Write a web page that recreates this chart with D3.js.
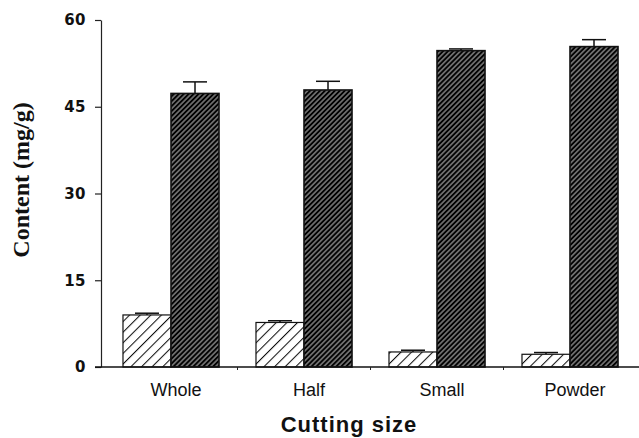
<!DOCTYPE html>
<html>
<head>
<meta charset="utf-8">
<script src="https://cdn.jsdelivr.net/npm/d3@7"></script>
<style>
  html, body { margin: 0; padding: 0; background: #fff; }
  svg { display: block; }
</style>
</head>
<body>
<svg id="chart" width="639" height="438"></svg>
<script>
// Extraction content by cutting size (two treatments, mean ± error)
const categories = ["Whole", "Half", "Small", "Powder"];
const seriesKeys = ["low", "high"];
const lowValues  = [9.0, 7.7, 2.6, 2.2];
const lowErrors  = [0.3, 0.3, 0.3, 0.3];
const highValues = [47.3, 47.9, 54.7, 55.4];
const highErrors = [2.0, 1.5, 0.3, 1.2];
const yTicks = [0, 15, 30, 45, 60];

const svg = d3.select("#chart");

const x = d3.scaleBand().domain(categories).range([104.5, 636.5]).paddingInner(0).paddingOuter(0);
const xSub = d3.scaleBand().domain(seriesKeys).range([0, x.bandwidth()]).paddingInner(0).paddingOuter(0.385);
const y = d3.scaleLinear().domain([0, 60]).range([367, 20]);

// hatch patterns
const defs = svg.append("defs");
const light = defs.append("pattern")
  .attr("id", "hatchLight").attr("patternUnits", "userSpaceOnUse")
  .attr("width", 7.5).attr("height", 7.5)
  .attr("patternTransform", "rotate(45)");
light.append("rect").attr("width", 7.5).attr("height", 7.5).attr("fill", "#fff");
light.append("line").attr("x1", 0.5).attr("y1", 0).attr("x2", 0.5).attr("y2", 7.5)
  .attr("stroke", "#111").attr("stroke-width", 1.1);

const dark = defs.append("pattern")
  .attr("id", "hatchDark").attr("patternUnits", "userSpaceOnUse")
  .attr("width", 3.5).attr("height", 3.5)
  .attr("patternTransform", "rotate(45)");
dark.append("rect").attr("width", 3.5).attr("height", 3.5).attr("fill", "#000");
dark.append("line").attr("x1", 1.75).attr("y1", 0).attr("x2", 1.75).attr("y2", 3.5)
  .attr("stroke", "#fff").attr("stroke-width", 0.75);

const rows = categories.map((c, i) => ({
  cat: c,
  bars: [
    { key: "low", value: lowValues[i], err: lowErrors[i] },
    { key: "high", value: highValues[i], err: highErrors[i] }
  ]
}));

const groups = svg.append("g").selectAll("g").data(rows).join("g")
  .attr("transform", d => `translate(${x(d.cat)},0)`);

// error bars (upper half only)
groups.selectAll("g.err").data(d => d.bars).join("g").attr("class", "err")
  .each(function(d) {
    const g = d3.select(this);
    const cx = xSub(d.key) + xSub.bandwidth() / 2;
    const cw = xSub.bandwidth() / 2;
    g.append("line").attr("x1", cx).attr("x2", cx)
      .attr("y1", y(d.value)).attr("y2", y(d.value + d.err))
      .attr("stroke", "#111").attr("stroke-width", 1.5);
    g.append("line").attr("x1", cx - cw / 2).attr("x2", cx + cw / 2)
      .attr("y1", y(d.value + d.err)).attr("y2", y(d.value + d.err))
      .attr("stroke", "#111").attr("stroke-width", 1.5);
  });

groups.selectAll("rect.bar").data(d => d.bars).join("rect").attr("class", "bar")
  .attr("x", d => xSub(d.key))
  .attr("width", xSub.bandwidth())
  .attr("y", d => y(d.value))
  .attr("height", d => y(0) - y(d.value))
  .attr("fill", d => d.key === "low" ? "url(#hatchLight)" : "url(#hatchDark)")
  .attr("stroke", "#111")
  .attr("stroke-width", d => d.key === "low" ? 1.2 : 1.6);

// y axis
const yAxis = svg.append("g").attr("transform", "translate(101,0)")
  .call(d3.axisLeft(y).tickValues(yTicks).tickSize(6).tickPadding(9).tickSizeOuter(0));
yAxis.select(".domain").attr("stroke", "#222").attr("stroke-width", 1.2);
yAxis.selectAll(".tick line").attr("stroke", "#222").attr("stroke-width", 1.2);
yAxis.selectAll(".tick text")
  .attr("font-family", "'DejaVu Sans', sans-serif").attr("font-weight", "bold")
  .attr("font-size", 15).attr("fill", "#111").attr("letter-spacing", 0.5);

// x axis: baseline with small ticks between categories
const xAxisG = svg.append("g");
xAxisG.append("line").attr("x1", 95).attr("x2", 639).attr("y1", y(0)).attr("y2", y(0))
  .attr("stroke", "#111").attr("stroke-width", 1.6);
xAxisG.selectAll("line.sep").data(categories.slice(1)).join("line").attr("class", "sep")
  .attr("x1", d => x(d)).attr("x2", d => x(d))
  .attr("y1", y(0)).attr("y2", y(0) + 3)
  .attr("stroke", "#222").attr("stroke-width", 1);
xAxisG.selectAll("text").data(categories).join("text")
  .attr("x", d => x(d) + x.bandwidth() / 2 + 5)
  .attr("y", 396)
  .attr("text-anchor", "middle")
  .attr("font-family", "'Liberation Sans', Arial, sans-serif")
  .attr("font-size", 18).attr("fill", "#111")
  .text(d => d);

// axis titles
svg.append("text")
  .attr("x", 349).attr("y", 432)
  .attr("text-anchor", "middle")
  .attr("font-family", "'Liberation Sans', Arial, sans-serif")
  .attr("font-weight", "bold").attr("font-size", 22).attr("fill", "#111")
  .attr("letter-spacing", 1)
  .text("Cutting size");

svg.append("text")
  .attr("transform", "translate(29,180) rotate(-90)")
  .attr("text-anchor", "middle")
  .attr("font-family", "'Liberation Serif', 'Times New Roman', serif")
  .attr("font-weight", "bold").attr("font-size", 24).attr("fill", "#111")
  .text("Content (mg/g)");
</script>
</body>
</html>
